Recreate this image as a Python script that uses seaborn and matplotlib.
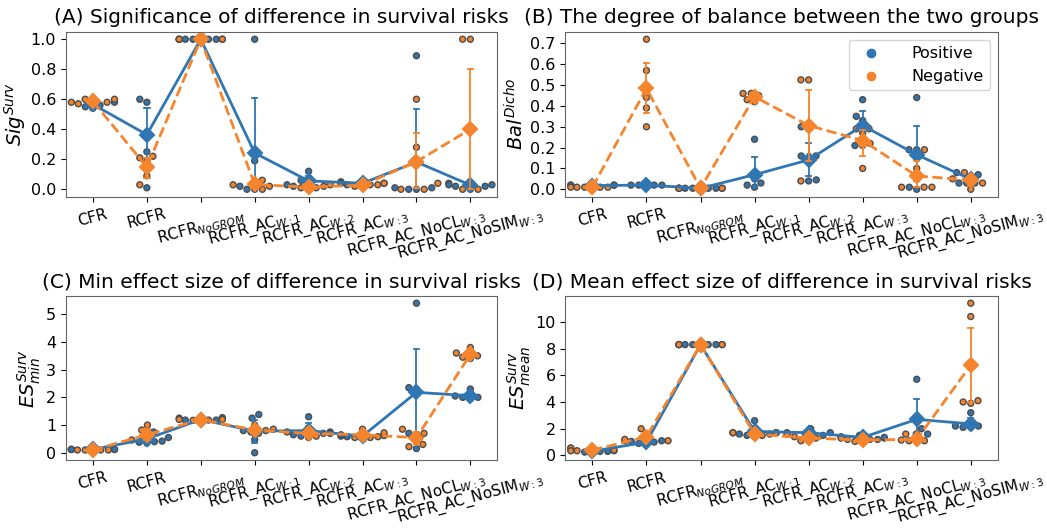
import numpy as np
import pandas as pd
import matplotlib
matplotlib.use("Agg")
import matplotlib.pyplot as plt
import seaborn as sns
from matplotlib.lines import Line2D
from matplotlib.ticker import MultipleLocator

categories = ["CFR", "RCFR", "RCFR_NoGROM", "RCFR_AC_W1", "RCFR_AC_W2",
              "RCFR_AC_W3", "RCFR_AC_NoCL_W3", "RCFR_AC_NoSIM_W3"]
tick_labels = ["CFR", "RCFR", r"RCFR$_{NoGROM}$", r"RCFR_AC$_{W:1}$", r"RCFR_AC$_{W:2}$",
               r"RCFR_AC$_{W:3}$", r"RCFR_AC_NoCL$_{W:3}$", r"RCFR_AC_NoSIM$_{W:3}$"]
groups = ["Positive", "Negative"]

# (A) Sig^Surv, 5 runs per category
sig_pos = [[0.60, 0.55, 0.54, 0.56, 0.58], [0.60, 0.58, 0.38, 0.25, 0.01],
           [1.0, 1.0, 1.0, 1.0, 1.0], [1.0, 0.19, 0.02, 0.0, 0.0],
           [0.12, 0.06, 0.05, 0.03, 0.02], [0.05, 0.04, 0.04, 0.03, 0.04],
           [0.89, 0.0, 0.0, 0.01, 0.01], [0.04, 0.03, 0.02, 0.02, 0.03]]
sig_neg = [[0.58, 0.60, 0.60, 0.57, 0.58], [0.22, 0.21, 0.09, 0.03, 0.19],
           [1.0, 1.0, 1.0, 1.0, 1.0], [0.06, 0.05, 0.03, 0.02, 0.0],
           [0.03, 0.02, 0.01, 0.01, 0.0], [0.04, 0.03, 0.02, 0.03, 0.02],
           [0.60, 0.28, 0.04, 0.0, 0.0], [1.0, 1.0, 0.0, 0.0, 0.0]]
# (B) Bal^Dicho
bal_pos = [[0.02, 0.02, 0.01, 0.02, 0.02], [0.02, 0.02, 0.02, 0.02, 0.02],
           [0.005, 0.005, 0.005, 0.005, 0.005], [0.24, 0.05, 0.03, 0.02, 0.01],
           [0.30, 0.16, 0.16, 0.045, 0.04], [0.43, 0.35, 0.33, 0.21, 0.21],
           [0.44, 0.19, 0.19, 0.01, 0.0], [0.03, 0.07, 0.03, 0.08, 0.03]]
bal_neg = [[0.01, 0.01, 0.01, 0.01, 0.01], [0.72, 0.57, 0.44, 0.39, 0.30],
           [0.005, 0.005, 0.005, 0.005, 0.005], [0.46, 0.46, 0.45, 0.42, 0.43],
           [0.525, 0.525, 0.29, 0.15, 0.04], [0.29, 0.27, 0.22, 0.10, 0.29],
           [0.10, 0.19, 0.01, 0.01, 0.01], [0.08, 0.06, 0.05, 0.00, 0.03]]
# (C) ES_min^Surv
esmin_pos = [[0.12, 0.12, 0.12, 0.12, 0.12], [0.75, 0.40, 0.38, 0.42, 0.55],
             [1.27, 1.22, 1.18, 1.15, 1.18], [1.38, 1.25, 0.80, 0.47, 0.0],
             [1.30, 0.75, 0.65, 0.60, 0.70], [0.60, 0.55, 0.62, 0.58, 0.65],
             [5.40, 2.35, 2.30, 0.70, 0.15], [2.30, 2.00, 2.00, 1.95, 2.05]]
esmin_neg = [[0.10, 0.10, 0.10, 0.10, 0.10], [1.00, 0.82, 0.62, 0.35, 0.46],
             [1.25, 1.20, 1.18, 1.20, 1.17], [0.85, 0.80, 0.75, 0.70, 1.00],
             [0.90, 0.75, 0.60, 0.55, 0.70], [0.85, 0.72, 0.58, 0.55, 0.55],
             [0.85, 0.70, 0.65, 0.30, 0.22], [3.80, 3.60, 3.50, 3.40, 3.45]]
# (D) ES_mean^Surv
esmean_pos = [[0.55, 0.30, 0.30, 0.25, 0.20], [1.10, 1.00, 0.90, 0.90, 1.05],
              [8.3, 8.3, 8.3, 8.3, 8.3], [2.60, 1.70, 1.60, 1.50, 1.60],
              [2.00, 1.70, 1.60, 1.50, 1.70], [1.50, 1.40, 1.20, 1.30, 1.35],
              [5.70, 2.60, 2.00, 1.60, 1.60], [3.20, 2.20, 2.10, 2.10, 2.20]]
esmean_neg = [[0.55, 0.35, 0.35, 0.40, 0.35], [2.00, 1.60, 1.10, 1.10, 1.20],
              [8.3, 8.3, 8.3, 8.3, 8.3], [1.70, 1.70, 1.50, 1.40, 1.70],
              [1.60, 1.30, 1.10, 1.10, 1.40], [1.30, 1.20, 1.00, 1.05, 1.20],
              [1.60, 1.15, 1.10, 1.05, 1.10], [11.4, 10.4, 4.0, 3.9, 4.1]]

titles = ["(A) Significance of difference in survival risks",
          "(B) The degree of balance between the two groups",
          "(C) Min effect size of difference in survival risks",
          "(D) Mean effect size of difference in survival risks"]
ylabels = [r"$Sig^{Surv}$", r"$Bal^{Dicho}$", r"$ES^{Surv}_{min}$", r"$ES^{Surv}_{mean}$"]
ytick_steps = [0.2, 0.1, 1, 2]
panels = [(sig_pos, sig_neg), (bal_pos, bal_neg), (esmin_pos, esmin_neg), (esmean_pos, esmean_neg)]


def make_df(pos, neg):
    rows = []
    for cat, pv, nv in zip(categories, pos, neg):
        for v in pv:
            rows.append((cat, "Positive", v))
        for v in nv:
            rows.append((cat, "Negative", v))
    return pd.DataFrame(rows, columns=["method", "group", "value"])


palette = {"Positive": "#2f76b2", "Negative": "#f5842c"}

fig = plt.figure(figsize=(10.47, 5.29), dpi=100)
rects = [(0.063, 0.628, 0.412, 0.312), (0.540, 0.628, 0.413, 0.312),
         (0.063, 0.130, 0.412, 0.311), (0.540, 0.130, 0.413, 0.311)]

for i, ((pos, neg), rect) in enumerate(zip(panels, rects)):
    ax = fig.add_axes(rect)
    df = make_df(pos, neg)
    sns.swarmplot(data=df, x="method", y="value", hue="group", order=categories,
                  hue_order=groups, palette=palette, size=4.3, edgecolor="0.3",
                  linewidth=1, ax=ax, legend=False, zorder=1)
    sns.pointplot(data=df, x="method", y="value", hue="group", order=categories,
                  hue_order=groups, palette=palette, markers=["D", "D"],
                  linestyles=["-", "--"], capsize=0.1, errorbar=("ci", 95), seed=0,
                  markersize=7, linewidth=2, err_kws={"linewidth": 1.3},
                  ax=ax, legend=False, dodge=False)
    ax.set_xlim(-0.5, 7.5)
    ax.set_xticks(range(len(categories)))
    ax.set_xticklabels(tick_labels, rotation=15, fontsize=11)
    ax.yaxis.set_major_locator(MultipleLocator(ytick_steps[i]))
    ax.tick_params(axis="y", labelsize=11.5)
    ax.set_xlabel("")
    ax.set_ylabel(ylabels[i], fontsize=14, labelpad=2)
    ax.set_title(titles[i], fontsize=14.5)
    for s in ax.spines.values():
        s.set_color("0.4")
    if i == 1:
        handles = [Line2D([], [], marker="o", linestyle="", color=palette[g], markersize=6)
                   for g in groups]
        ax.legend(handles, groups, loc="upper right", fontsize=11.5, handletextpad=1.5)

fig.savefig("out.png", dpi=100)
